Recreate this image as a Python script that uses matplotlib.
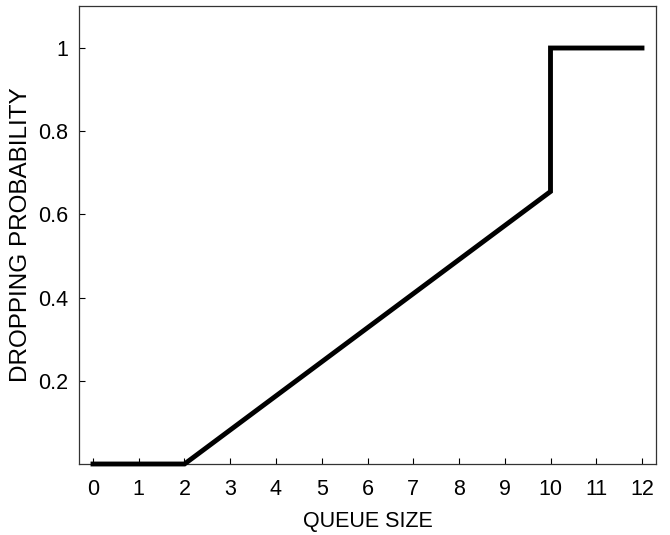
import numpy as np
import matplotlib.pyplot as plt

# dropping probability vs queue size
queue = [0, 2, 10, 10, 12]
prob = [0, 0, 0.655, 1, 1]

xticks = list(range(0, 13))
yticks = [0.2, 0.4, 0.6, 0.8, 1]
yticklabels = ['0.2', '0.4', '0.6', '0.8', '1']

plt.rcParams['font.family'] = 'Liberation Sans'

fig = plt.figure(figsize=(6.7, 5.35), dpi=100)
ax = fig.add_axes([79/670, 1 - 464/535, (656-79)/670, (464-6)/535])

ax.plot(queue, prob, color='black', lw=3.5, solid_joinstyle='miter', clip_on=False, zorder=3)

ax.set_xlim(-0.306, 12.306)
ax.set_ylim(0, 1.101)
ax.set_xticks(xticks)
ax.set_yticks(yticks)
ax.set_yticklabels(yticklabels)
ax.tick_params(direction='in', length=4, width=0.8, labelsize=15.5)
ax.tick_params(axis='x', pad=11)
ax.tick_params(axis='y', pad=8)
for s in ax.spines.values():
    s.set_linewidth(0.9)
    s.set_color('#333333')

ax.set_xlabel('QUEUE SIZE', fontsize=15.5, labelpad=8)
ax.set_ylabel('DROPPING PROBABILITY', fontsize=17.5, labelpad=4)

fig.savefig('out.png', dpi=100)
